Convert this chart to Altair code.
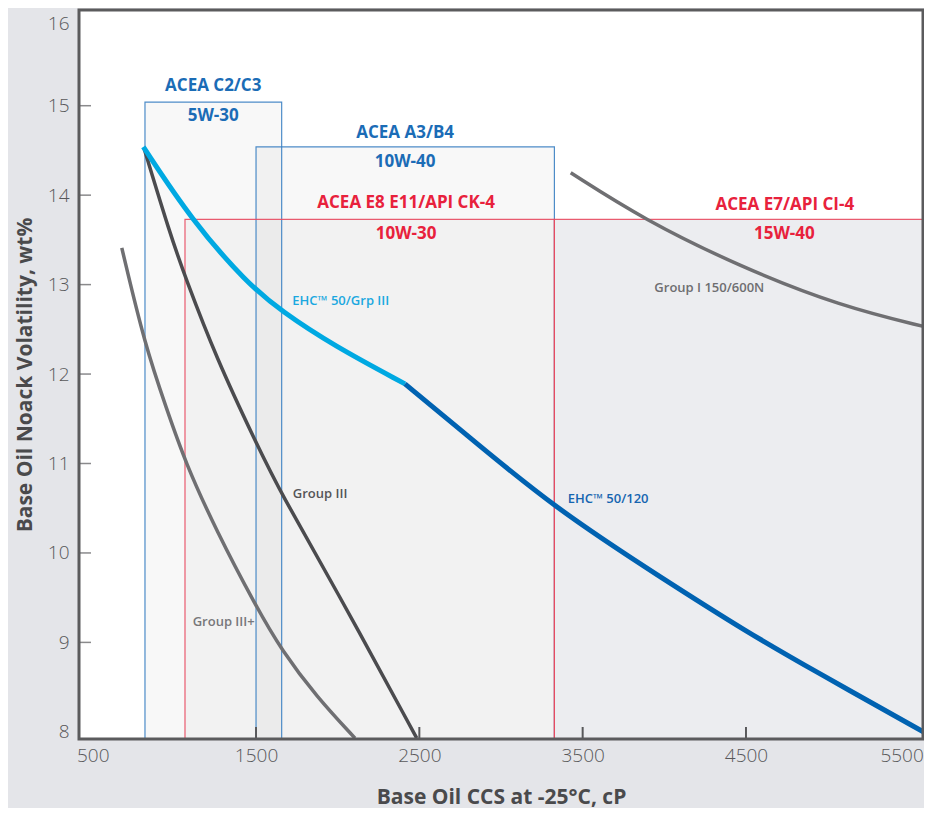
import altair as alt
import pandas as pd

# ---- plot geometry (domain) ----
X_MIN, X_MAX = 416, 5584
Y_MIN, Y_MAX = 7.92, 16.07
W, H = 844, 729

x_tick_labels = [500, 1500, 2500, 3500, 4500, 5500]
y_tick_labels = [8, 9, 10, 11, 12, 13, 14, 15, 16]
x_inner_ticks = [1500, 2500, 3500, 4500]
y_inner_ticks = [9, 10, 11, 12, 13, 14, 15]

# ---- curves ----
ehc_grp3_x = [810, 1106, 1443, 1657, 1973, 2412]
ehc_grp3_y = [14.54, 13.72, 13.02, 12.70, 12.32, 11.89]

ehc_120_x = [2412, 2743, 3328, 4010, 4502, 4911, 5615]
ehc_120_y = [11.89, 11.39, 10.50, 9.69, 9.12, 8.69, 7.97]

grp3_x = [815, 973, 1065, 1259, 1498, 1657, 1973, 2484]
grp3_y = [14.52, 13.57, 13.09, 12.17, 11.24, 10.65, 9.65, 7.93]

grp3p_x = [678, 820, 953, 1065, 1259, 1498, 1657, 1872, 2106]
grp3p_y = [13.41, 12.32, 11.61, 11.02, 10.24, 9.41, 8.91, 8.39, 7.93]

grp1_x = [3427, 3872, 4464, 5076, 5615]
grp1_y = [14.25, 13.73, 13.20, 12.76, 12.52]

# ---- specification boxes ----
box_names = ["ACEA C2/C3", "ACEA A3/B4", "ACEA E8 E11/API CK-4", "ACEA E7/API CI-4"]
box_x1 = [820, 1500, 1065, 3327]
box_x2 = [1657, 3327, 3327, 5615]
box_top = [15.04, 14.54, 13.73, 13.73]
box_fill = ["#000000", "#000000", "#000000", "#ecedf0"]
box_fill_opacity = [0.028, 0.028, 0.025, 1.0]
box_stroke = ["#3a7fc2", "#3a7fc2", "#e84a60", "#e84a60"]

# ---- box labels ----
big_text = ["ACEA C2/C3", "5W-30", "ACEA A3/B4", "10W-40",
            "ACEA E8 E11/API CK-4", "10W-30", "ACEA E7/API CI-4", "15W-40"]
big_x = [1238, 1238, 2413, 2413, 2419, 2419, 4738, 4735]
big_y = [15.22, 14.88, 14.69, 14.37, 13.91, 13.57, 13.89, 13.57]
big_color = ["#1b6cb6", "#1b6cb6", "#1b6cb6", "#1b6cb6",
             "#e8213c", "#e8213c", "#e8213c", "#e8213c"]

# ---- curve labels ----
small_text = ["EHC\u2122 50/Grp III", "Group III", "Group III+", "Group I 150/600N", "EHC\u2122 50/120"]
small_x = [1722, 1725, 1112, 3939, 3408]
small_y = [12.82, 10.66, 9.23, 12.96, 10.60]
small_color = ["#1ba8e0", "#555557", "#77777a", "#6e6e70", "#1565b0"]

FONT = "Open Sans"
FRAME = "#5b5b5d"

xs = alt.Scale(domain=[X_MIN, X_MAX], nice=False, zero=False)
ys = alt.Scale(domain=[Y_MIN, Y_MAX], nice=False, zero=False)

x_axis = alt.Axis(values=x_tick_labels, title="Base Oil CCS at -25°C, cP", grid=False,
                  domain=False, ticks=False, tickSize=0, labelPadding=7,
                  labelFontSize=19, labelColor="#58585a", labelFont=FONT, labelFontWeight=300,
                  labelAlign=alt.expr("datum.value >= 5500 ? 'right' : 'center'"),
                  labelOffset=alt.expr("datum.value >= 5500 ? 14 : 0"),
                  titleFontSize=21, titleFont=FONT, titleFontWeight="bold", titleColor="#4a4a4c",
                  titlePadding=21, format="d", labelFlush=False)
y_axis = alt.Axis(values=y_tick_labels, title="Base Oil Noack Volatility, wt%", grid=False,
                  domain=False, ticks=False, tickSize=0, labelPadding=10,
                  labelFontSize=19, labelColor="#58585a", labelFont=FONT, labelFontWeight=300,
                  labelOffset=alt.expr("datum.value >= 16 ? 7 : 0"),
                  titleFontSize=21, titleFont=FONT, titleFontWeight="bold", titleColor="#4a4a4c",
                  titlePadding=12, format="d", labelFlush=False)


def X(field):
    return alt.X(field, type="quantitative", scale=xs, axis=x_axis)


def Y(field):
    return alt.Y(field, type="quantitative", scale=ys, axis=y_axis)


boxes = pd.DataFrame({"name": box_names, "x1": box_x1, "x2": box_x2, "top": box_top,
                      "fill": box_fill, "fo": box_fill_opacity, "stroke": box_stroke,
                      "bottom": [Y_MIN] * len(box_names)})

fills = alt.Chart(boxes).mark_rect(strokeWidth=0, clip=True).encode(
    x=X("x1"), x2="x2", y=Y("bottom"), y2="top",
    fill=alt.Fill("fill:N", scale=None),
    fillOpacity=alt.FillOpacity("fo:Q", scale=None),
)
borders = alt.Chart(boxes).mark_rect(fillOpacity=0, strokeWidth=1.2, strokeOpacity=0.9, clip=True).encode(
    x=X("x1"), x2="x2", y=Y("bottom"), y2="top",
    stroke=alt.Stroke("stroke:N", scale=None),
)

PX_PER_Y = H / (Y_MAX - Y_MIN)
PX_PER_X = W / (X_MAX - X_MIN)
TICK_PX = 12
xt = pd.DataFrame({"x": x_inner_ticks, "y0": [Y_MIN] * len(x_inner_ticks),
                   "y1": [Y_MIN + TICK_PX / PX_PER_Y] * len(x_inner_ticks)})
yt = pd.DataFrame({"y": y_inner_ticks, "x0": [X_MIN] * len(y_inner_ticks),
                   "x1": [X_MIN + TICK_PX / PX_PER_X] * len(y_inner_ticks)})
xticks = alt.Chart(xt).mark_rule(color="#58585a", strokeWidth=2).encode(x=X("x"), y=Y("y0"), y2="y1")
yticks = alt.Chart(yt).mark_rule(color="#8a8a8c", strokeWidth=1.5).encode(y=Y("y"), x=X("x0"), x2="x1")


def curve(xv, yv, color, width):
    df = pd.DataFrame({"x": xv, "y": yv})
    return alt.Chart(df).mark_line(color=color, strokeWidth=width, interpolate="basis",
                                   strokeCap="butt", clip=True).encode(x=X("x"), y=Y("y"))


lines = [
    curve(grp3p_x, grp3p_y, "#6f6f72", 3.5),
    curve(grp3_x, grp3_y, "#4b4b4e", 3.5),
    curve(grp1_x, grp1_y, "#6f6f72", 3.5),
    curve(ehc_grp3_x, ehc_grp3_y, "#00a9e2", 5),
    curve(ehc_120_x, ehc_120_y, "#0062b1", 5),
]

big = pd.DataFrame({"t": big_text, "x": big_x, "y": big_y, "c": big_color})
big_labels = alt.Chart(big).mark_text(font=FONT, fontSize=17, fontWeight="bold", align="center",
                                      baseline="middle").encode(
    x=X("x"), y=Y("y"), text="t:N", color=alt.Color("c:N", scale=None))

small = pd.DataFrame({"t": small_text, "x": small_x, "y": small_y, "c": small_color})
small_labels = alt.Chart(small).mark_text(font=FONT, fontSize=13, fontWeight=600, align="left",
                                          baseline="middle").encode(
    x=X("x"), y=Y("y"), text="t:N", color=alt.Color("c:N", scale=None))

frame_df = pd.DataFrame({"x1": [X_MIN], "x2": [X_MAX], "y1": [Y_MIN], "y2": [Y_MAX]})
frame = alt.Chart(frame_df).mark_rect(fillOpacity=0, stroke=FRAME, strokeWidth=3).encode(
    x=X("x1"), x2="x2", y=Y("y1"), y2="y2")

chart = alt.layer(fills, borders, xticks, yticks, *lines, big_labels, small_labels, frame).properties(
    width=W, height=H,
    autosize=alt.AutoSizeParams(type="none"),
    padding={"left": 71, "top": 2, "right": 1, "bottom": 69},
    background="#e4e5e9",
).configure_view(
    fill="#ffffff", stroke=None,
)

chart.save("out.html", embed_options={"renderer": "svg", "actions": False})
